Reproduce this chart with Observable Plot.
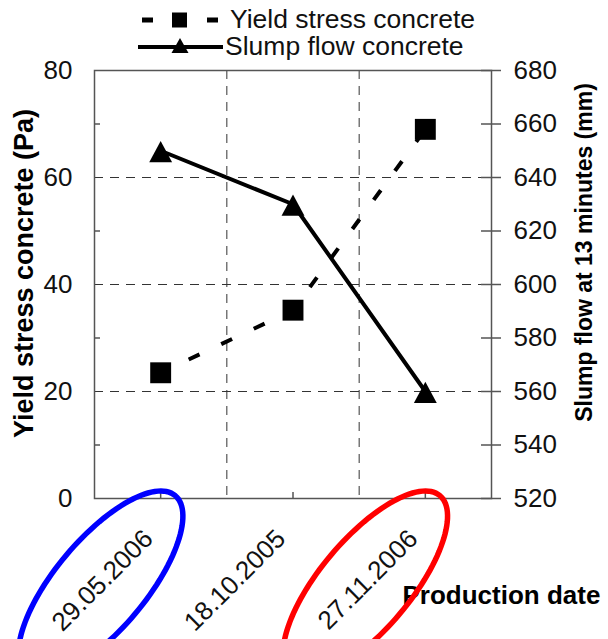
<!DOCTYPE html>
<html><head><meta charset="utf-8">
<script src="https://cdn.jsdelivr.net/npm/d3@7"></script>
<script src="https://cdn.jsdelivr.net/npm/@observablehq/plot@0.6"></script>
<style>
body{margin:0;background:#fff;}
#chart{position:relative;width:608px;height:639px;overflow:hidden;font-family:"Liberation Sans",Arial,sans-serif;}
#legend{position:absolute;left:0;top:0;}
</style></head><body><div id="chart"></div><script>
// ---- data ----
const categories = ["29.05.2006", "18.10.2005", "27.11.2006"];
const yieldStress = [23.5, 35.2, 69];          // Pa (left axis)
const slumpFlow = [650, 630, 560];             // mm (right axis)
const yieldTicks = [0, 20, 40, 60, 80];
const yieldMinorTicks = [10, 30, 50, 70];
const slumpTicks = [520, 540, 560, 580, 600, 620, 640, 660, 680];
const highlightedDates = ["29.05.2006", "27.11.2006"];
const highlightColors = ["blue", "red"];
const seriesNames = ["Yield stress concrete", "Slump flow concrete"];
const yLabelLeft = "Yield stress concrete (Pa)";
const yLabelRight = "Slump flow at 13 minutes (mm)";
const xLabel = "Production date";

// ---- derived ----
const yDomain = [yieldTicks[0], yieldTicks[yieldTicks.length - 1]];
const sDomain = [slumpTicks[0], slumpTicks[slumpTicks.length - 1]];
const toLeft = v => yDomain[0] + (v - sDomain[0]) * (yDomain[1] - yDomain[0]) / (sDomain[1] - sDomain[0]);
const rows = categories.map((c, i) => ({cat: c, xi: i + 0.5, ys: yieldStress[i], sf: toLeft(slumpFlow[i])}));
const boundaries = categories.slice(1).map((c, i) => i + 1);
const highlights = highlightedDates.map((d, k) => ({xi: categories.indexOf(d) + 0.5, color: highlightColors[k]}));

const W = 608, H = 639, mL = 94, mR = 117, mT = 70, mB = 141;
const fw = W - mL - mR, fh = H - mT - mB;
const axisColor = "#555";
const gridStyle = {stroke: "#333", strokeWidth: 1, strokeDasharray: "9,7"};

const ellipseSymbol = {draw(ctx, size) {
  const a = Math.sqrt(size / Math.PI), b = a * 0.39, phi = -50 * Math.PI / 180, n = 120;
  for (let i = 0; i <= n; i++) {
    const t = 2 * Math.PI * i / n;
    const x = a * Math.cos(t) * Math.cos(phi) - b * Math.sin(t) * Math.sin(phi);
    const y = a * Math.cos(t) * Math.sin(phi) + b * Math.sin(t) * Math.cos(phi);
    i ? ctx.lineTo(x, y) : ctx.moveTo(x, y);
  }
  ctx.closePath();
}};
const triSymbol = {draw(ctx, size) {
  const r = Math.sqrt(size / Math.PI);
  ctx.moveTo(0, -r * 1.1); ctx.lineTo(r * 1.3, r * 1.3); ctx.lineTo(-r * 1.3, r * 1.3); ctx.closePath();
}};

const plot = Plot.plot({
  width: W, height: H,
  marginLeft: mL, marginRight: mR, marginTop: mT, marginBottom: mB,
  style: {fontFamily: "'Liberation Sans', Arial, sans-serif", color: "#111", background: "white", overflow: "visible"},
  x: {type: "linear", domain: [0, categories.length], axis: null},
  y: {domain: yDomain},
  color: {type: "identity"},
  marks: [
    Plot.ruleY(yieldTicks.slice(1, -1), gridStyle),
    Plot.ruleX(boundaries, gridStyle),
    Plot.ruleY(yieldMinorTicks, {stroke: axisColor, strokeWidth: 1.5, insetRight: fw - 6}),
    Plot.ruleX(rows, {x: "xi", stroke: axisColor, strokeWidth: 1.5, insetTop: fh - 6}),
    Plot.ruleY(slumpTicks.map(toLeft), {stroke: axisColor, strokeWidth: 1.5, insetLeft: fw - 10, insetRight: -10}),
    Plot.frame({stroke: axisColor, strokeWidth: 1.5}),
    Plot.axisY(yieldTicks, {anchor: "left", tickSize: 0, tickPadding: 22, fontSize: 26, label: null}),
    Plot.axisY(slumpTicks.map(toLeft), {anchor: "right", tickSize: 0, tickPadding: 22, fontSize: 26, label: null,
      tickFormat: d => String(Math.round(sDomain[0] + (d - yDomain[0]) * (sDomain[1] - sDomain[0]) / (yDomain[1] - yDomain[0])))}),
    Plot.line(rows, {x: "xi", y: "ys", stroke: "#000", strokeWidth: 4, strokeDasharray: "12,24", strokeDashoffset: 5, strokeLinecap: "butt"}),
    Plot.line(rows, {x: "xi", y: "sf", stroke: "#000", strokeWidth: 4}),
    Plot.dot(rows, {x: "xi", y: "ys", symbol: "square", r: 11.8, fill: "#000", stroke: "none"}),
    Plot.dot(rows, {x: "xi", y: "sf", symbol: triSymbol, r: 8.8, fill: "#000", stroke: "none"}),
    Plot.text(rows, {x: "xi", text: "cat", frameAnchor: "bottom", textAnchor: "end", lineAnchor: "middle", rotate: -45, dx: -12, dy: 36, fontSize: 26, fill: "#111"}),
    Plot.text([yLabelLeft], {frameAnchor: "left", textAnchor: "middle", lineAnchor: "middle", rotate: -90, dx: -70, dy: -11, fontSize: 27, fontWeight: "bold", fill: "#000"}),
    Plot.text([yLabelRight], {frameAnchor: "right", textAnchor: "middle", lineAnchor: "middle", rotate: -90, dx: 93, dy: -32, fontSize: 23, fontWeight: "bold", fill: "#000"}),
    Plot.text([xLabel], {frameAnchor: "bottom", textAnchor: "start", lineAnchor: "bottom", dx: 402 - (mL + fw / 2), dy: 105, fontSize: 26, fontWeight: "bold", fill: "#000"}),
    Plot.dot(highlights, {x: "xi", frameAnchor: "bottom", dx: -60, dy: 86, symbol: ellipseSymbol, r: 116, stroke: "color", fill: "none", strokeWidth: 5.5})
  ]
});
const chart = document.getElementById("chart");
chart.appendChild(plot);

// ---- legend ----
const lg = d3.select(chart).append("svg").attr("id", "legend").attr("width", W).attr("height", mT);
// row 1: dashed + square
lg.append("line").attr("x1", 142).attr("x2", 218).attr("y1", 20).attr("y2", 20)
  .attr("stroke", "#000").attr("stroke-width", 5).attr("stroke-dasharray", "11,54");
lg.append("rect").attr("x", 172).attr("y", 12.5).attr("width", 15).attr("height", 15).attr("fill", "#000");
lg.append("text").attr("x", 230).attr("y", 28).attr("font-size", 26.5).attr("fill", "#111").text(seriesNames[0]);
// row 2: solid + triangle
lg.append("line").attr("x1", 138).attr("x2", 223).attr("y1", 47).attr("y2", 47)
  .attr("stroke", "#000").attr("stroke-width", 4);
lg.append("path").attr("d", "M180,38L188.5,53L171.5,53Z").attr("fill", "#000");
lg.append("text").attr("x", 225).attr("y", 55).attr("font-size", 26.5).attr("fill", "#111").text(seriesNames[1]);
</script></body></html>
